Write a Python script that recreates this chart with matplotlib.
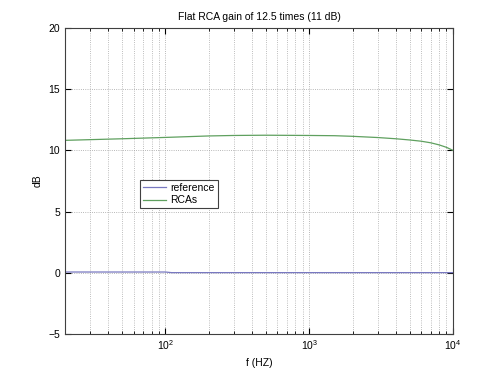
import matplotlib
matplotlib.use('Agg')
import matplotlib.pyplot as plt
from matplotlib.ticker import LogLocator, NullFormatter

# values
freq = [20, 50, 100, 200, 300, 500, 1000, 1500, 2000, 3000, 4000, 5000, 6000, 7000, 8000, 9000, 10000]
rcas_db = [10.82, 10.95, 11.06, 11.18, 11.22, 11.24, 11.22, 11.2, 11.15, 11.05, 10.95, 10.85, 10.75, 10.62, 10.45, 10.25, 10.0]
ref_freq = [20, 100, 110, 10000]
ref_db = [0.05, 0.05, 0.0, 0.0]

plt.rcParams['font.family'] = ['Liberation Sans', 'DejaVu Sans']

fig = plt.figure(figsize=(5, 3.75), dpi=100)
ax = fig.add_axes([0.13, 0.11, 0.776, 0.815])

ax.semilogx(ref_freq, ref_db, color='#7878c0', linewidth=0.9, label='reference')
ax.semilogx(freq, rcas_db, color='#5fa05f', linewidth=0.9, label='RCAs')

ax.set_xlim(20, 10000)
ax.set_ylim(-5, 20)
ax.set_yticks([-5, 0, 5, 10, 15, 20])
ax.xaxis.set_major_locator(LogLocator(base=10))
ax.xaxis.set_minor_locator(LogLocator(base=10, subs=range(2, 10)))
ax.xaxis.set_minor_formatter(NullFormatter())

ax.grid(True, which='major', axis='both', linestyle=':', color='#a0a0a0', linewidth=0.6)
ax.grid(True, which='minor', axis='x', linestyle=':', color='#a8a8a8', linewidth=0.6)

ax.tick_params(which='both', direction='in', top=True, right=True, labelsize=7.5)
ax.tick_params(which='major', length=4)
ax.tick_params(which='minor', length=2)
for s in ax.spines.values():
    s.set_linewidth(0.8)
    s.set_color('#404040')

ax.set_title('Flat RCA gain of 12.5 times (11 dB)', fontsize=7.5)
ax.set_xlabel('f (HZ)', fontsize=7.5)
ax.set_ylabel('dB', fontsize=7.5)

leg = ax.legend(loc='upper left', bbox_to_anchor=(0.193, 0.503), borderaxespad=0,
                fontsize=7.5, fancybox=False, edgecolor='#404040', framealpha=1,
                handlelength=2.2, handletextpad=0.4, borderpad=0.3, labelspacing=0.2)
leg.get_frame().set_linewidth(0.8)

fig.savefig('out.png', dpi=100)
